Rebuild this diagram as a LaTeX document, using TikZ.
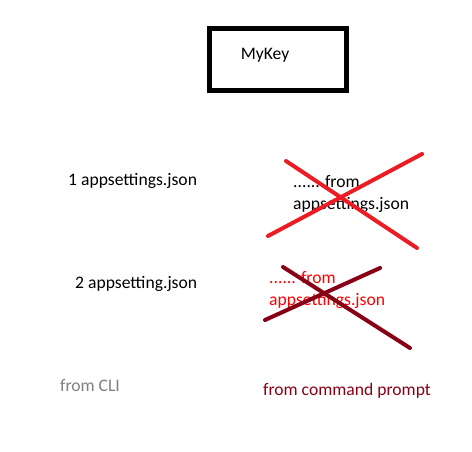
\documentclass[tikz,border=0pt]{standalone}
\usepackage{fontspec}
\setmainfont{Carlito}
\usepackage{xcolor}
\definecolor{paintred}{HTML}{ED1C24}
\definecolor{darkred}{HTML}{880015}
\definecolor{cligray}{HTML}{7F7F7F}

\begin{document}
\begin{tikzpicture}[x=1pt, y=-1pt, every node/.style={inner sep=0pt, font=\fontsize{17.6}{22}\selectfont}]
\useasboundingbox (0,0) rectangle (472,451);

\node (key) [draw, line width=5pt, minimum width=137pt, minimum height=62pt] at (277.5,59) {};
\node (keytext) at (265,55) {MyKey};

\node (first) [anchor=west] at (68,181) {1 appsettings.json};
\node (firstval) [anchor=west, align=left] at (293,194) {...... from\\appsettings.json};

\node (second) [anchor=west] at (75,284) {2 appsetting.json};
\node (secondval) [anchor=west, align=left, text=red] at (269,290) {...... from\\appsettings.json};

\node (cli) [anchor=west, text=cligray] at (60,386) {from CLI};
\node (prompt) [anchor=west, text=darkred] at (263,391) {from command prompt};

% crosses
\draw [paintred, line width=4pt, line cap=round] (286,161) -- (417,248);
\draw [paintred, line width=4pt, line cap=round] (268,236) -- (422,154);
\draw [darkred, line width=4pt, line cap=round] (283,267) -- (410,348);
\draw [darkred, line width=4pt, line cap=round] (265,320) -- (380,268);

\end{tikzpicture}
\end{document}
